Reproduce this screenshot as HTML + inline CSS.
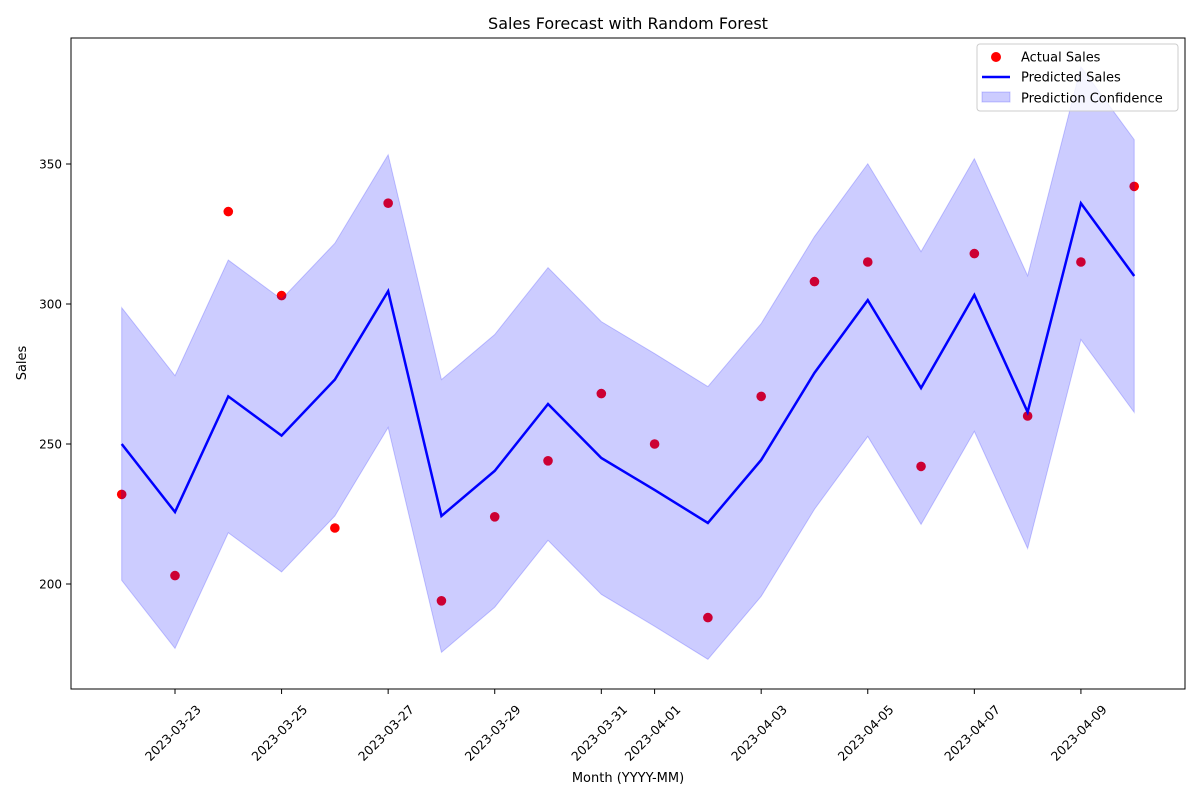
<!DOCTYPE html>
<html><head><meta charset="utf-8"><style>
body{margin:0;background:#fff;font-family:"Liberation Sans","DejaVu Sans",sans-serif;}
svg text{font-family:"DejaVu Sans","Liberation Sans",sans-serif;}
</style></head><body>
<svg id="chart" width="1200" height="800" xmlns="http://www.w3.org/2000/svg">
<rect width="1200" height="800" fill="#fff"/>
<text x="628" y="29" font-size="16" text-anchor="middle">Sales Forecast with Random Forest</text>
<g id="band"></g>
<g id="points"></g>
<g id="line"></g>
<g id="axes"></g>
<rect x="71" y="38" width="1114" height="651" fill="none" stroke="#000" stroke-width="1"/>
<text x="628" y="782" font-size="13" text-anchor="middle">Month (YYYY-MM)</text>
<text transform="translate(26,363) rotate(-90)" font-size="13" text-anchor="middle">Sales</text>
<g>
<rect x="977" y="44" width="201" height="67" rx="3" fill="#fff" fill-opacity="0.8" stroke="#ccc"/>
<circle cx="996" cy="57" r="5" fill="red"/>
<text x="1021" y="61.5" font-size="13">Actual Sales</text>
<line x1="982" y1="77" x2="1010" y2="77" stroke="blue" stroke-width="2.5"/>
<text x="1021" y="81.5" font-size="13">Predicted Sales</text>
<rect x="982" y="92" width="28" height="10" fill="blue" fill-opacity="0.2" stroke="blue" stroke-opacity="0.2"/>
<text x="1021" y="102.5" font-size="13">Prediction Confidence</text>
</g>
</svg>
<script>
const dates=["2023-03-22","2023-03-23","2023-03-24","2023-03-25","2023-03-26","2023-03-27","2023-03-28","2023-03-29","2023-03-30","2023-03-31","2023-04-01","2023-04-02","2023-04-03","2023-04-04","2023-04-05","2023-04-06","2023-04-07","2023-04-08","2023-04-09","2023-04-10"];
const actual=[232,203,333,303,220,336,194,224,244,268,250,188,267,308,315,242,318,260,315,342];
const predicted=[250,225.7,267,253,273,304.6,224.3,240.4,264.3,245,233.6,221.8,244.3,275.4,301.4,270,303.2,261.4,336,310];
const ciHalf=[48.7];
const yTicks=[200,250,300,350];
const xTickLabels=["2023-03-23","2023-03-25","2023-03-27","2023-03-29","2023-03-31","2023-04-01","2023-04-03","2023-04-05","2023-04-07","2023-04-09"];
const NS="http://www.w3.org/2000/svg";
const day=d=>Date.UTC(+d.slice(0,4),+d.slice(5,7)-1,+d.slice(8,10))/864e5;
const d0=day(dates[0]);
const X=d=>121.7+(day(d)-d0)*53.29;
const Y=v=>304-(v-300)*2.8;
function mk(t,a,p){const e=document.createElementNS(NS,t);for(const k in a)e.setAttribute(k,a[k]);p.appendChild(e);return e;}
const up=dates.map((d,i)=>X(d)+","+Y(predicted[i]+ciHalf[0]));
const lo=dates.map((d,i)=>X(d)+","+Y(predicted[i]-ciHalf[0])).reverse();
const pts=document.getElementById('points');
dates.forEach((d,i)=>{const c=mk('circle',{cx:X(d),cy:Y(actual[i]),r:4.8,fill:'red'},pts);

});
mk('polygon',{points:up.concat(lo).join(' '),fill:'blue','fill-opacity':0.2,stroke:'blue','stroke-opacity':0.2},document.getElementById('band'));
document.getElementById('chart').insertBefore(document.getElementById('band'),document.getElementById('line'));
const ln=mk('polyline',{points:dates.map((d,i)=>X(d)+","+Y(predicted[i])).join(' '),fill:'none',stroke:'blue','stroke-width':2.5},document.getElementById('line'));


const ax=document.getElementById('axes');
yTicks.forEach(v=>{mk('line',{x1:66,x2:71,y1:Y(v),y2:Y(v),stroke:'#000'},ax);
const t=mk('text',{x:62,y:Y(v)+4.5,'font-size':12,'text-anchor':'end'},ax);t.textContent=v;

});
xTickLabels.forEach(d=>{const x=X(d);mk('line',{x1:x,x2:x,y1:689,y2:694,stroke:'#000'},ax);
const cx=x-2,cy=733;
const t=mk('text',{x:cx,y:cy+4.3,'font-size':12.5,'text-anchor':'middle',transform:`rotate(-45 ${cx} ${cy})`},ax);t.textContent=d;

});
</script>
</body></html>
